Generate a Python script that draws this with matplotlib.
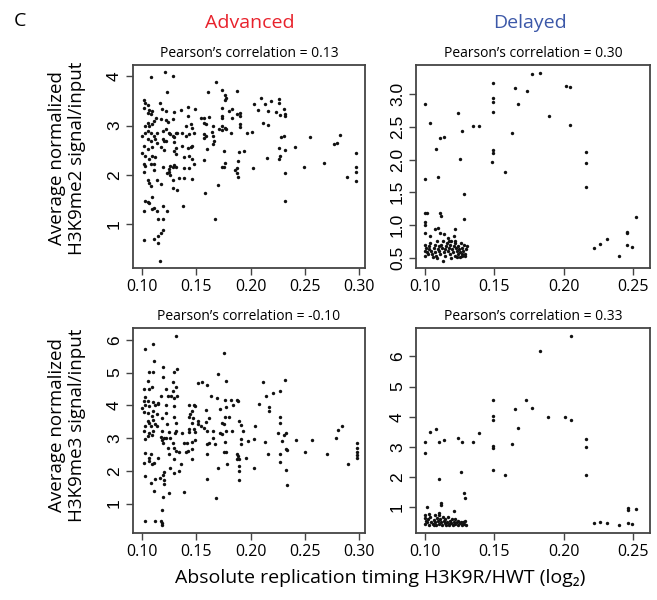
import matplotlib
matplotlib.use("Agg")
import matplotlib.pyplot as plt

plt.rcParams['font.family'] = ['Open Sans', 'DejaVu Sans']

# ---------------- data ----------------
# Advanced, H3K9me2
adv_me2_x = [
    0.108,0.121,0.128,0.123,0.102,0.103,0.105,0.102,0.106,0.105,
    0.109,0.108,0.116,0.118,0.122,0.129,0.136,0.142,0.149,0.113,
    0.117,0.122,0.124,0.111,0.109,0.105,0.103,0.106,0.100,0.103,
    0.105,0.108,0.111,0.114,0.119,0.122,0.125,0.126,0.128,0.129,
    0.131,0.132,0.128,0.142,0.140,0.145,0.146,0.148,0.143,0.140,
    0.137,0.105,0.108,0.112,0.114,0.119,0.120,0.122,0.117,0.120,
    0.109,0.105,0.102,0.129,0.131,0.129,0.137,0.142,0.145,0.146,
    0.143,0.146,0.139,0.131,0.100,0.103,0.106,0.109,0.112,0.102,
    0.103,0.108,0.111,0.119,0.125,0.126,0.128,0.131,0.129,0.139,
    0.143,0.148,0.111,0.102,0.125,0.126,0.123,0.128,0.134,0.139,
    0.146,0.105,0.106,0.108,0.114,0.117,0.128,0.132,0.109,0.106,
    0.105,0.103,0.102,0.109,0.111,0.114,0.119,0.123,0.115,0.119,
    0.119,0.117,0.115,0.102,0.111,0.115,0.116,0.138,0.158,0.167,
    0.170,0.168,0.161,0.174,0.187,0.176,0.177,0.176,0.174,0.180,
    0.183,0.187,0.190,0.190,0.183,0.174,0.174,0.157,0.154,0.162,
    0.157,0.159,0.165,0.174,0.176,0.174,0.171,0.177,0.182,0.190,
    0.190,0.164,0.157,0.159,0.157,0.165,0.166,0.160,0.165,0.157,
    0.175,0.176,0.174,0.175,0.187,0.186,0.187,0.188,0.188,0.189,
    0.194,0.197,0.201,0.202,0.203,0.210,0.213,0.219,0.226,0.226,
    0.207,0.216,0.223,0.227,0.231,0.232,0.232,0.211,0.216,0.228,
    0.231,0.255,0.282,0.277,0.280,0.226,0.232,0.241,0.227,0.226,
    0.215,0.232,0.249,0.268,0.297,0.297,0.297,0.289,0.297,0.232]
adv_me2_y = [
    3.98,4.08,4.01,3.69,3.51,3.46,3.41,3.36,3.31,3.26,
    3.29,3.23,3.46,3.34,3.29,3.28,3.31,3.38,3.33,3.15,
    3.13,3.11,3.07,3.09,3.03,3.06,2.99,2.99,2.79,2.86,
    2.89,2.86,2.79,2.86,2.89,2.93,2.86,2.83,2.79,2.76,
    2.84,2.86,3.13,3.19,2.99,3.03,2.96,2.86,2.83,2.79,
    2.86,2.73,2.69,2.73,2.64,2.73,2.69,2.69,2.56,2.51,
    2.57,2.53,2.59,2.66,2.55,2.49,2.59,2.55,2.56,2.59,
    2.39,2.33,2.36,2.43,2.44,2.39,2.33,2.39,2.36,2.23,
    2.19,2.23,2.23,2.17,2.11,2.19,2.16,2.15,2.21,2.13,
    2.13,2.23,2.09,2.06,2.06,1.99,2.03,1.89,1.93,1.93,
    1.91,1.89,1.83,1.77,1.89,1.81,1.73,1.69,1.55,1.43,
    1.44,1.46,1.27,1.31,1.33,1.26,1.36,1.26,1.11,1.11,
    0.89,0.83,0.76,0.67,0.69,0.61,0.26,1.36,1.63,1.11,
    1.79,3.89,3.69,3.73,3.71,3.63,3.56,3.51,3.36,3.29,
    3.33,3.23,3.26,3.19,3.15,3.19,3.16,3.16,3.16,3.17,
    3.06,3.03,2.99,2.99,2.96,2.91,2.93,2.93,2.86,3.03,
    2.97,2.88,2.83,2.79,2.75,2.79,2.69,2.53,2.63,2.31,
    2.48,2.24,2.17,2.15,2.13,2.09,2.03,1.96,2.29,2.46,
    2.48,2.84,2.87,2.13,3.44,3.57,3.43,3.49,3.55,3.46,
    3.32,3.29,3.27,3.21,3.33,3.23,3.19,3.06,3.01,2.77,
    2.79,2.76,2.81,2.63,2.64,2.54,2.51,2.56,2.38,2.32,
    2.35,2.03,2.16,2.24,2.44,2.17,2.06,1.95,1.88,1.47]

# Delayed, H3K9me2
del_me2_x = [
    0.1000,0.1041,0.1005,0.1081,0.1107,0.1136,0.1095,0.1243,0.1267,0.1255,
    0.1284,0.1286,0.1346,0.1391,0.1494,0.1494,0.1494,0.1494,0.1494,0.1494,
    0.1487,0.1578,0.1625,0.1649,0.1673,0.1733,0.1773,0.1831,0.1893,0.2014,
    0.2046,0.2046,0.2162,0.2162,0.2162,0.2217,0.2263,0.2308,0.2399,0.2456,
    0.2456,0.2456,0.2490,0.2520,
    0.1005,0.1017,0.1000,0.1005,0.1000,0.1041,0.1076,0.1095,0.1107,0.1119,
    0.1112,0.1136,0.1215,0.1167,0.1208,0.1129,
    0.1005,0.1010,0.1005,0.1017,0.1000,0.1029,0.1033,0.1041,0.1048,0.1053,
    0.1064,0.1072,0.1076,0.1081,0.1088,0.1095,0.1100,0.1105,0.1112,0.1119,
    0.1124,0.1129,0.1136,0.1143,0.1148,0.1153,0.1160,0.1167,0.1172,0.1179,
    0.1184,0.1191,0.1196,0.1201,0.1208,0.1215,0.1220,0.1224,0.1232,0.1239,
    0.1243,0.1248,0.1255,0.1263,0.1267,0.1272,0.1279,0.1286,0.1291,0.1296,
    0.1303,0.1267,0.1024,0.1057,0.1088,0.1191,0.1232,0.1255,0.1291,0.1172,
    0.1215]
del_me2_y = [
    2.86,2.56,1.70,2.16,2.33,2.34,1.73,2.72,2.44,2.01,
    1.48,1.09,2.51,2.51,3.18,2.95,2.88,2.73,2.15,2.10,
    1.97,1.81,2.41,3.09,2.86,3.05,3.31,3.33,2.67,3.13,
    3.11,2.53,2.12,1.95,1.58,0.64,0.71,0.79,0.52,0.88,
    0.89,0.70,0.66,1.12,
    1.18,1.18,1.05,1.00,0.88,0.83,0.93,0.95,1.19,1.13,
    0.88,0.86,0.94,0.80,0.83,0.45,
    0.70,0.65,0.60,0.58,0.53,0.68,0.63,0.73,0.60,0.55,
    0.65,0.70,0.58,0.53,0.75,0.63,0.68,0.60,0.55,0.70,
    0.65,0.75,0.58,0.63,0.53,0.68,0.73,0.60,0.65,0.55,
    0.70,0.76,0.63,0.58,0.68,0.53,0.73,0.65,0.60,0.55,
    0.68,0.63,0.58,0.73,0.65,0.53,0.60,0.70,0.56,0.63,
    0.68,0.55,0.55,0.51,0.50,0.50,0.51,0.51,0.52,0.75,
    0.76]

# Advanced, H3K9me3
adv_me3_x = [
    0.131,0.103,0.110,0.111,0.119,0.132,0.129,0.106,0.110,0.119,
    0.105,0.128,0.109,0.102,0.106,0.122,0.131,0.128,0.117,0.103,
    0.124,0.127,0.129,0.132,0.102,0.105,0.110,0.115,0.103,0.106,
    0.112,0.115,0.122,0.129,0.100,0.102,0.105,0.110,0.114,0.122,
    0.109,0.118,0.129,0.105,0.106,0.110,0.112,0.103,0.108,0.114,
    0.123,0.131,0.102,0.106,0.110,0.118,0.125,0.130,0.105,0.109,
    0.117,0.120,0.122,0.126,0.131,0.103,0.118,0.119,0.137,0.128,
    0.139,0.141,0.124,0.129,0.146,0.146,0.103,0.108,0.125,0.131,
    0.134,0.140,0.142,0.106,0.115,0.102,0.106,0.109,0.111,0.129,
    0.136,0.146,0.126,0.134,0.129,0.103,0.120,0.119,0.108,0.112,
    0.116,0.120,0.120,0.111,0.125,0.119,0.139,0.118,0.103,0.112,
    0.117,0.118,0.118,0.151,0.155,0.160,0.143,0.148,0.149,0.146,
    0.144,0.143,0.147,0.146,0.151,0.151,0.159,0.162,0.159,0.143,
    0.143,0.148,0.149,0.154,0.157,0.160,0.165,0.165,0.162,0.160,
    0.167,0.149,0.160,0.160,0.170,0.168,0.163,0.169,0.176,0.170,
    0.177,0.175,0.172,0.177,0.180,0.176,0.174,0.175,0.172,0.177,
    0.174,0.183,0.176,0.175,0.177,0.178,0.182,0.187,0.188,0.184,
    0.189,0.191,0.193,0.191,0.191,0.187,0.189,0.187,0.196,0.189,
    0.189,0.189,0.188,0.198,0.211,0.232,0.214,0.221,0.227,0.208,
    0.217,0.217,0.227,0.227,0.204,0.225,0.231,0.233,0.203,0.213,
    0.229,0.242,0.257,0.279,0.281,0.284,0.216,0.227,0.233,0.234,
    0.250,0.270,0.227,0.203,0.233,0.234,0.290,0.298,0.298,0.298,0.298,0.298]
adv_me3_y = [
    6.13,5.73,5.88,5.36,5.17,5.11,5.02,5.02,5.02,4.86,
    4.75,4.70,4.55,4.50,4.50,4.50,4.55,4.45,4.28,4.25,
    4.28,4.28,4.22,4.28,4.12,4.12,4.10,4.07,4.02,3.97,
    4.02,4.05,4.02,3.97,3.92,3.80,3.77,3.84,3.74,3.77,
    3.67,3.62,3.64,3.52,3.47,3.54,3.42,3.37,3.37,3.37,
    3.42,3.47,3.23,3.16,3.21,3.23,3.19,3.16,3.06,3.09,
    3.03,3.01,2.99,3.01,3.21,2.96,2.93,2.86,3.16,2.86,
    2.86,2.86,2.71,2.69,2.89,2.66,2.53,2.50,2.50,2.59,
    2.56,2.56,2.61,2.40,2.40,2.25,2.30,2.22,2.25,2.35,
    2.22,2.35,2.10,1.98,1.93,1.85,1.95,1.87,1.64,1.74,
    1.78,1.71,1.59,1.39,1.31,1.21,1.36,0.80,0.48,0.46,
    0.46,0.40,0.33,4.68,4.70,4.61,4.02,4.02,3.97,3.84,
    3.72,3.64,3.60,3.47,3.52,3.44,3.87,3.60,3.50,3.27,
    3.19,3.27,3.19,3.37,3.32,3.21,3.23,3.01,2.86,2.83,
    2.83,2.93,2.50,1.74,2.10,1.17,4.28,4.21,4.15,4.96,
    4.75,5.59,3.90,3.94,3.64,3.64,3.47,3.42,3.16,3.21,
    3.11,3.21,2.89,2.56,2.58,2.20,4.15,4.15,4.12,4.00,
    3.52,3.40,3.23,2.96,2.81,2.52,2.35,2.35,2.38,2.15,
    2.00,1.71,2.45,2.91,4.71,4.76,4.28,4.36,4.45,4.05,
    3.94,3.84,3.64,3.47,3.37,3.16,3.08,3.16,2.96,2.89,
    2.91,2.93,2.93,2.99,3.26,3.37,2.50,2.50,2.66,2.63,
    2.56,2.52,2.28,2.10,2.03,1.56,2.20,2.86,2.69,2.56,2.48,2.40]

# Delayed, H3K9me3
del_me3_x = [
    0.100,0.1005,0.104,0.108,0.110,0.114,0.110,0.124,0.127,0.126,
    0.128,0.129,0.135,0.139,0.149,0.149,0.149,0.149,0.149,0.149,
    0.158,0.163,0.165,0.167,0.173,0.177,0.183,0.189,0.201,0.205,
    0.205,0.216,0.216,0.216,0.222,0.226,0.231,0.240,0.246,0.246,
    0.246,0.249,0.252,
    0.102,0.112,0.112,0.121,
    0.1000,0.1005,0.1010,0.1005,0.1017,0.1024,0.1029,0.1041,0.1048,0.1057,
    0.1064,0.1072,0.1076,0.1081,0.1088,0.1095,0.1100,0.1105,0.1112,0.1119,
    0.1124,0.1129,0.1136,0.1143,0.1148,0.1153,0.1160,0.1167,0.1172,0.1184,
    0.1191,0.1196,0.1201,0.1208,0.1215,0.1220,0.1232,0.1239,0.1243,0.1255,
    0.1263,0.1267,0.1279,0.1286,0.1291,0.1296,0.1033,0.1100,0.1064,0.1172]
del_me3_y = [
    2.79,3.18,3.51,3.58,3.18,3.23,1.93,3.31,3.16,2.18,
    1.49,1.32,3.18,3.47,4.55,4.02,3.88,3.03,2.96,2.24,
    2.07,3.11,4.26,3.64,4.57,4.29,6.19,4.00,4.00,6.69,
    3.89,3.25,3.01,2.08,0.47,0.53,0.48,0.42,0.92,0.97,
    0.48,0.45,0.95,
    1.00,1.16,1.08,0.89,
    0.73,0.64,0.56,0.45,0.51,0.62,0.42,0.67,0.53,0.45,
    0.59,0.73,0.51,0.42,0.64,0.56,0.45,0.73,0.62,0.51,
    0.42,0.67,0.56,0.48,0.62,0.42,0.53,0.67,0.45,0.56,
    0.48,0.62,0.42,0.53,0.45,0.62,0.51,0.42,0.56,0.48,
    0.53,0.42,0.51,0.45,0.56,0.42,0.78,0.81,0.40,0.40]

pearson = ["0.13", "0.30", "-0.10", "0.33"]
col_titles = ["Advanced", "Delayed"]
col_colors = ["#e8222c", "#3c58a8"]
ylabels = ["Average normalized\nH3K9me2 signal/input",
           "Average normalized\nH3K9me3 signal/input"]
xlabel = "Absolute replication timing H3K9R/HWT (log\u2082)"

adv_xticks = [0.10, 0.15, 0.20, 0.25, 0.30]
del_xticks = [0.10, 0.15, 0.20, 0.25]
me2_adv_yticks = [1, 2, 3, 4]
me2_del_yticks = [0.5, 1.0, 1.5, 2.0, 2.5, 3.0]
me3_yticks = [1, 2, 3, 4, 5, 6]

# ---------------- figure ----------------
W, H = 657, 600
fig = plt.figure(figsize=(W / 100, H / 100), dpi=100)

def rect(l, t, r, b):
    return [l / W, 1 - b / H, (r - l) / W, (b - t) / H]

axes_specs = [
    (rect(133, 65, 365, 268), adv_me2_x, adv_me2_y, (0.0915, 0.3055), (0.11, 4.23),
     adv_xticks, me2_adv_yticks, "{:.0f}"),
    (rect(416, 65, 650, 268), del_me2_x, del_me2_y, (0.0938, 0.262), (0.34, 3.45),
     del_xticks, me2_del_yticks, "{:.1f}"),
    (rect(133, 328, 365, 533), adv_me3_x, adv_me3_y, (0.0915, 0.3055), (0.10, 6.36),
     adv_xticks, me3_yticks, "{:.0f}"),
    (rect(416, 328, 650, 533), del_me3_x, del_me3_y, (0.0938, 0.262), (0.15, 6.94),
     del_xticks, me3_yticks, "{:.0f}"),
]

edge = "#444444"
for i, (r, xs, ys, xl, yl, xt, yt, fmt) in enumerate(axes_specs):
    ax = fig.add_axes(r)
    ax.scatter(xs, ys, s=6, c="#111111", linewidths=0, zorder=3)
    ax.set_xlim(*xl)
    ax.set_ylim(*yl)
    ax.set_xticks(xt)
    ax.set_xticklabels(["{:.2f}".format(v) for v in xt], fontsize=11.5)
    ax.set_yticks(yt)
    ax.set_yticklabels([fmt.format(v) for v in yt], fontsize=12.5,
                       rotation=90, va="center", family="Liberation Sans")
    ax.tick_params(direction="out", length=5, width=1.0, color=edge, pad=3)
    for sp in ax.spines.values():
        sp.set_color(edge)
        sp.set_linewidth(1.3)
    ax.set_title("Pearson\u2019s correlation = " + pearson[i], fontsize=10, pad=6)

# column titles
fig.text(250 / W, 1 - 23 / H, col_titles[0], color=col_colors[0], fontsize=14,
         ha="center", va="center")
fig.text(530 / W, 1 - 23 / H, col_titles[1], color=col_colors[1], fontsize=14,
         ha="center", va="center")
# panel letter
fig.text(14 / W, 1 - 21 / H, "C", fontsize=14, ha="left", va="center")
# y labels
fig.text(67 / W, 1 - 158 / H, ylabels[0], fontsize=13.5, rotation=90,
         ha="center", va="center", linespacing=1.1)
fig.text(67 / W, 1 - 425 / H, ylabels[1], fontsize=13.5, rotation=90,
         ha="center", va="center", linespacing=1.1)
# x label
fig.text(380 / W, 1 - 578 / H, xlabel, fontsize=14, ha="center", va="center")

fig.savefig("out.png", dpi=100)
